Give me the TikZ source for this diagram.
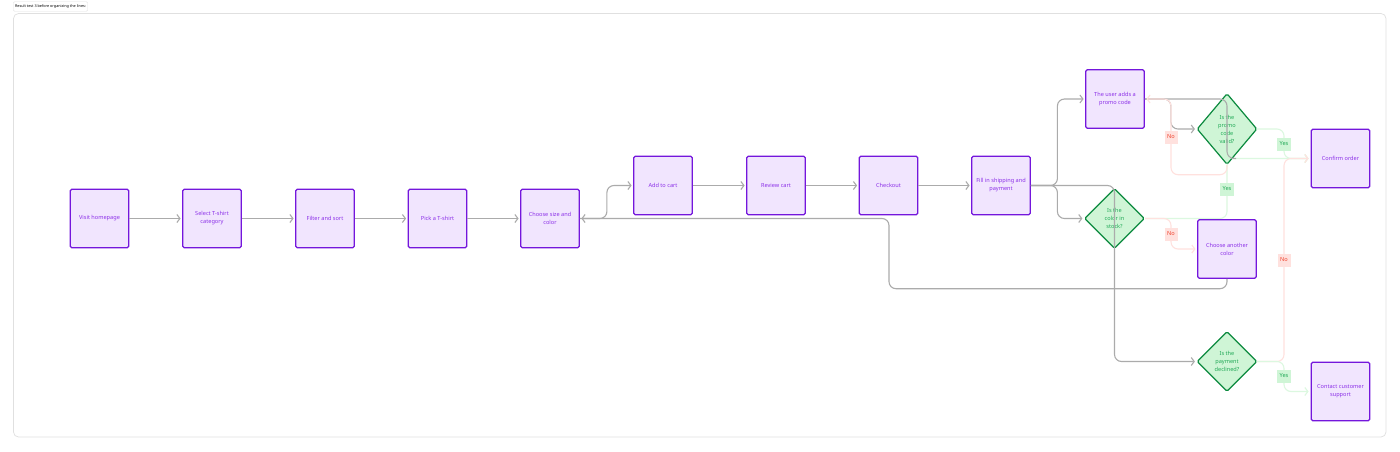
\documentclass[tikz,border=0pt]{standalone}
\usepackage{fontspec}
\setmainfont{Noto Sans}
\usepackage{xcolor}
\usetikzlibrary{arrows.meta,shapes.geometric}
\definecolor{boxfill}{HTML}{F1E5FE}
\definecolor{boxline}{HTML}{7416DC}
\definecolor{boxtext}{HTML}{8B2FE8}
\definecolor{decfill}{HTML}{CFF5D6}
\definecolor{decline}{HTML}{0B8A3E}
\definecolor{dectext}{HTML}{1FA855}
\definecolor{grayline}{HTML}{ABABAB}
\definecolor{pinkline}{HTML}{FFE1DE}
\definecolor{greenline}{HTML}{DCF8E0}
\definecolor{notext}{HTML}{F0442E}
\tikzset{
    stepbox/.style={draw=boxline,fill=boxfill,text=boxtext,line width=1.3pt,rounded corners=1.5pt,
        minimum width=58.5pt,minimum height=58.5pt,inner sep=0pt,align=center,
        font=\fontsize{5.6}{8}\selectfont},
    decbox/.style={diamond,draw=decline,fill=decfill,text=dectext,line width=1.2pt,rounded corners=1.5pt,
        minimum width=60pt,minimum height=60pt,inner sep=0pt,align=center,
        font=\fontsize{5.6}{8}\selectfont},
    link/.style={draw=grayline,line width=1.1pt,rounded corners=7pt,shorten >=1.5pt,
        -{Straight Barb[length=3pt,width=8pt]}},
    linkno/.style={link,draw=pinkline},
    linkyes/.style={link,draw=greenline},
    tagno/.style={fill=pinkline,text=notext,font=\fontsize{5.6}{8}\selectfont,minimum width=13pt,minimum height=13pt,inner sep=0pt},
    tagyes/.style={fill=decfill,text=dectext,font=\fontsize{5.6}{8}\selectfont,minimum width=14.5pt,minimum height=13pt,inner sep=0pt},
}
\begin{document}
\begin{tikzpicture}[x=1pt,y=-1pt]
    \useasboundingbox (0,0) rectangle (1400,451);
    \fill[white] (0,0) rectangle (1400,451);
    \node[draw=black!12,line width=.4pt,rounded corners=1pt,minimum width=74pt,minimum height=9.5pt,inner sep=0pt,
        font=\fontsize{3.75}{5}\selectfont] (title) at (50.5,6.5) {Result test 3 before organizing the lines:};
    \draw[black!12,line width=.7pt,rounded corners=5pt] (13.5,13.5) rectangle (1386,437);

    % pale links first, the nodes cover them
    \draw[linkyes] (1145,218.5) -- (1227,218.5) -- (1227,158.5) -- (1310,158.5);
    \draw[linkyes] (1257,129) -- (1284,129) -- (1284,158.5) -- (1310,158.5);
    \draw[linkno] (1257,361.5) -- (1284,361.5) -- (1284,158.5) -- (1310,158.5);
    \draw[linkyes] (1257,361.5) -- (1284,361.5) -- (1284,391.5) -- (1310,391.5);
    \draw[linkno] (1145,218.5) -- (1171,218.5) -- (1171,249) -- (1197,249);

    \node[stepbox] (visit) at (99.5,218.5) {Visit homepage};
    \node[stepbox] (category) at (212,218.5) {Select T-shirt\\category};
    \node[stepbox] (filter) at (325,218.5) {Filter and sort};
    \node[stepbox] (pick) at (437.5,218.5) {Pick a T-shirt};
    \node[stepbox] (size) at (550,218.5) {Choose size and\\color};
    \node[stepbox] (cart) at (663,185.5) {Add to cart};
    \node[stepbox] (review) at (776,185.5) {Review cart};
    \node[stepbox] (checkout) at (888.5,185.5) {Checkout};
    \node[stepbox] (shipping) at (1001,185.5) {Fill in shipping and\\payment};
    \node[stepbox] (promo) at (1115,99) {The user adds a\\promo code};
    \node[decbox,minimum height=71pt] (valid) at (1227,129) {Is the\\promo\\code\\valid?};
    \node[decbox] (stock) at (1114.5,218.5) {Is the\\color in\\stock?};
    \node[stepbox] (another) at (1227,249) {Choose another\\color};
    \node[decbox] (declined) at (1227,361.5) {Is the\\payment\\declined?};
    \node[stepbox] (confirm) at (1340.5,158.5) {Confirm order};
    \node[stepbox] (support) at (1340.5,391.5) {Contact customer\\support};

    \foreach \a/\b in {visit/category,category/filter,filter/pick,pick/size,cart/review,review/checkout,checkout/shipping}{
        \draw[link] (\a) -- (\b);}
    \draw[link] (size.east) -- ++(27,0) |- (cart.west);
    \draw[link] (another.south) |- (889,288.7) |- (size.east);
    \draw[link] (shipping.east) -- ++(26.5,0) |- (promo.west);
    \draw[link] (shipping.east) -- ++(26.5,0) |- (stock.west);
    \draw[link] (shipping.east) -| (stock.center) |- (declined.west);
    \draw[link] (promo.east) -- ++(26,0) |- (valid.west);
    \draw[grayline,line width=1.1pt,rounded corners=7pt] (promo.east) -| (valid.center) -- (1227,158.5) -- (1236,158.5);
    \draw[linkno] (valid.south) |- (1171,174.7) -- (1171,99) -- (promo.east);

    \node[tagno] (nopromo) at (1171,137) {No};
    \node[tagyes] (yesvalid) at (1284,144) {Yes};
    \node[tagyes] (yesstock) at (1227,189) {Yes};
    \node[tagno] (nostock) at (1171,234) {No};
    \node[tagno] (nodeclined) at (1284,260) {No};
    \node[tagyes] (yesdeclined) at (1284,376) {Yes};
\end{tikzpicture}
\end{document}
